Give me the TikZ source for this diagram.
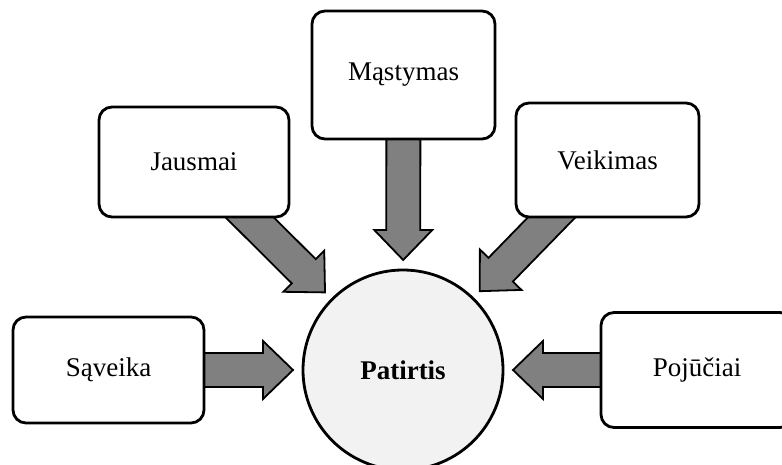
\documentclass[tikz,border=0pt]{standalone}
\usepackage{fontspec}
\setmainfont{Liberation Serif}
\usetikzlibrary{calc}
\pgfdeclarelayer{background}
\pgfsetlayers{background,main}
\definecolor{arrowgray}{HTML}{808080}
\definecolor{hubfill}{HTML}{F2F2F2}
\tikzset{
  item/.style={draw=black, line width=2.8pt, fill=white, rounded corners=13pt,
    align=center, inner sep=0pt, font=\fontsize{27}{32}\selectfont},
  hub/.style={circle, draw=black, line width=2.8pt, fill=hubfill, minimum size=200pt,
    inner sep=0pt, font=\fontsize{27}{32}\selectfont\bfseries},
  blockarrow/.style={draw=black, line width=1.8pt, fill=arrowgray, line join=miter},
}
% Block arrow from a source box toward the hub; the tip stops short of the hub.
\newcommand{\feedarrow}[2]{%
  \begin{pgfonlayer}{background}
    \coordinate (fa-tip) at ($(#2.center)!110pt!(#1.center)$);
    \coordinate (fa-base) at ($(fa-tip)!30pt!(#1.center)$);
    \filldraw[blockarrow]
      ($(#1.center)!17pt!90:(fa-tip)$) --
      ($(fa-base)!17pt!90:(fa-tip)$) --
      ($(fa-base)!29pt!90:(fa-tip)$) --
      (fa-tip) --
      ($(fa-base)!29pt!-90:(fa-tip)$) --
      ($(fa-base)!17pt!-90:(fa-tip)$) --
      ($(#1.center)!17pt!-90:(fa-tip)$) -- cycle;
  \end{pgfonlayer}%
}
\begin{document}
\begin{tikzpicture}[x=1pt, y=1pt]
  \useasboundingbox (0,0) rectangle (782,-465);
  \clip (0,0) rectangle (782,-465);

  \node[hub] (hub) at (403,-370) {Patirtis};

  \node[item, minimum width=183pt, minimum height=128pt] (mast) at (403.5,-75) {Mąstymas};
  \node[item, minimum width=190pt, minimum height=110pt] (jaus) at (194,-162) {Jausmai};
  \node[item, minimum width=183pt, minimum height=114pt] (veik) at (607.5,-160) {Veikimas};
  \node[item, minimum width=191pt, minimum height=106pt] (savk) at (108.5,-370) {Sąveika};
  \node[item, minimum width=192pt, minimum height=115pt] (poju) at (697,-370) {Pojūčiai};

  \feedarrow{mast}{hub}
  \feedarrow{jaus}{hub}
  \feedarrow{veik}{hub}
  \feedarrow{savk}{hub}
  \feedarrow{poju}{hub}
\end{tikzpicture}
\end{document}
